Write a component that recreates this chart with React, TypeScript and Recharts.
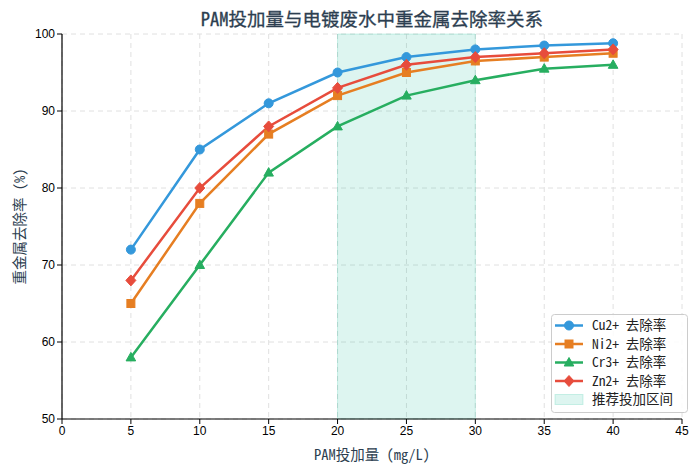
import React from 'react';
import {
  LineChart,
  Line,
  XAxis,
  YAxis,
  CartesianGrid,
  ReferenceArea,
  Legend,
} from 'recharts';

const doses = [5, 10, 15, 20, 25, 30, 35, 40];
const cuRemoval = [72, 85, 91, 95, 97, 98, 98.5, 98.8];
const niRemoval = [65, 78, 87, 92, 95, 96.5, 97, 97.5];
const crRemoval = [58, 70, 82, 88, 92, 94, 95.5, 96];
const znRemoval = [68, 80, 88, 93, 96, 97, 97.5, 98];
const xTicks = [0, 5, 10, 15, 20, 25, 30, 35, 40, 45];
const yTicks = [50, 60, 70, 80, 90, 100];
const recommendRange = [20, 30];

const data = doses.map((d, i) => ({
  x: d,
  cu: cuRemoval[i],
  ni: niRemoval[i],
  cr: crRemoval[i],
  zn: znRemoval[i],
}));

const CJK = "'Noto Sans Mono CJK SC', 'Noto Sans CJK SC', monospace";
const TICKFONT = "'Liberation Sans', Arial, sans-serif";
const TEXT_COLOR = '#2c3e50';

const C_CU = '#3498db';
const C_NI = '#e67e22';
const C_CR = '#27ae60';
const C_ZN = '#e74c3c';
const C_AREA = '#1abc9c';

type Shape = 'circle' | 'square' | 'triangle' | 'diamond';

function marker(shape: Shape, cx: number, cy: number, color: string, key?: any) {
  if (shape === 'circle') return <circle key={key} cx={cx} cy={cy} r={4.5} fill={color} stroke={color} />;
  if (shape === 'square') return <rect key={key} x={cx - 4} y={cy - 4} width={8} height={8} fill={color} stroke={color} />;
  if (shape === 'triangle')
    return <path key={key} d={`M${cx},${cy - 5} L${cx + 4.8},${cy + 3.5} L${cx - 4.8},${cy + 3.5} Z`} fill={color} stroke={color} />;
  return <path key={key} d={`M${cx},${cy - 5.5} L${cx + 5},${cy} L${cx},${cy + 5.5} L${cx - 5},${cy} Z`} fill={color} stroke={color} />;
}

const makeDot = (shape: Shape, color: string) => (props: any) => {
  const { cx, cy, index } = props;
  if (cx == null || cy == null) return <g key={index} />;
  return marker(shape, cx, cy, color, index);
};

const series = [
  { key: 'cu', name: 'Cu2+ 去除率', color: C_CU, shape: 'circle' as Shape },
  { key: 'ni', name: 'Ni2+ 去除率', color: C_NI, shape: 'square' as Shape },
  { key: 'cr', name: 'Cr3+ 去除率', color: C_CR, shape: 'triangle' as Shape },
  { key: 'zn', name: 'Zn2+ 去除率', color: C_ZN, shape: 'diamond' as Shape },
];

const LegendBox = () => {
  const rowH = 18.5;
  return (
    <svg width={137} height={99} style={{ display: 'block' }}>
      <rect x={0.5} y={0.5} width={136} height={98} rx={3} fill="#fff" fillOpacity={0.85} stroke="#cccccc" />
      {series.map((s, i) => {
        const y = 11.5 + i * rowH;
        return (
          <g key={s.key}>
            <line x1={4} x2={32} y1={y} y2={y} stroke={s.color} strokeWidth={2.5} />
            {marker(s.shape, 18, y, s.color)}
            <text x={41} y={y} dy="0.35em" fontSize={13.5} fontFamily={CJK} fill="#222">
              {s.name}
            </text>
          </g>
        );
      })}
      <rect x={4} y={11.5 + 4 * rowH - 5} width={28} height={10} fill={C_AREA} fillOpacity={0.15} stroke={C_AREA} strokeOpacity={0.2} />
      <text x={41} y={11.5 + 4 * rowH} dy="0.35em" fontSize={13.5} fontFamily={CJK} fill="#222">
        推荐投加区间
      </text>
    </svg>
  );
};

export default function App() {
  return (
    <div style={{ position: 'absolute', left: 0, top: 0, width: 698, height: 473, background: '#fff' }}>
      <div
        style={{
          position: 'absolute',
          left: 62,
          top: 5,
          width: 620,
          textAlign: 'center',
          fontFamily: CJK,
          fontSize: 18.5,
          fontWeight: 'normal',
          color: TEXT_COLOR,
          lineHeight: '26px',
          WebkitTextStroke: '0.3px #2c3e50',
        }}
      >
        PAM投加量与电镀废水中重金属去除率关系
      </div>
      <LineChart
        width={698}
        height={473}
        data={data}
        margin={{ top: 34, right: 16, bottom: 0, left: 0 }}
        style={{ position: 'absolute', left: 0, top: 0 }}
      >
        <CartesianGrid stroke="#e0e0e0" strokeDasharray="5 4" />
        <ReferenceArea
          x1={recommendRange[0]}
          x2={recommendRange[1]}
          y1={50}
          y2={100}
          fill={C_AREA}
          fillOpacity={0.15}
          stroke={C_AREA}
          strokeOpacity={0.2}
        />
        <XAxis
          dataKey="x"
          type="number"
          domain={[0, 45]}
          ticks={xTicks}
          height={54}
          allowDataOverflow
          stroke="#000"
          tickSize={5}
          tick={{ fill: '#000', fontSize: 12, fontFamily: TICKFONT }}
          tickLine={{ stroke: '#000' }}
          axisLine={{ stroke: '#000', strokeWidth: 1.2 }}
          label={(props: any) => {
            const vb = props.viewBox;
            return (
              <text
                x={vb.x + vb.width / 2}
                y={vb.y + 41}
                textAnchor="middle"
                fontSize={14.5}
                fontFamily={CJK}
                fill={TEXT_COLOR}
              >
                PAM投加量 (mg/L)
              </text>
            );
          }}
        />
        <XAxis xAxisId="top" orientation="top" type="number" domain={[0, 45]} height={0} tick={false} tickLine={false} axisLine={{ stroke: '#000', strokeWidth: 1.2 }} />
        <YAxis
          type="number"
          domain={[50, 100]}
          ticks={yTicks}
          width={62}
          allowDataOverflow
          stroke="#000"
          tickSize={5}
          tick={{ fill: '#000', fontSize: 12, fontFamily: TICKFONT }}
          tickLine={{ stroke: '#000' }}
          axisLine={{ stroke: '#000', strokeWidth: 1.2 }}
          label={(props: any) => {
            const vb = props.viewBox;
            const cx = 18;
            const cy = vb.y + vb.height / 2;
            return (
              <text
                x={cx}
                y={cy}
                textAnchor="middle"
                dominantBaseline="central"
                transform={`rotate(-90 ${cx} ${cy})`}
                fontSize={14.5}
                fontFamily={CJK}
                fill={TEXT_COLOR}
              >
                重金属去除率 (%)
              </text>
            );
          }}
        />
        <YAxis yAxisId="right" orientation="right" type="number" domain={[50, 100]} width={0} tick={false} tickLine={false} axisLine={{ stroke: '#000', strokeWidth: 1.2 }} />
        {series.map((s) => (
          <Line
            key={s.key}
            type="linear"
            dataKey={s.key}
            name={s.name}
            stroke={s.color}
            strokeWidth={2.5}
            dot={makeDot(s.shape, s.color)}
            activeDot={false}
            isAnimationActive={false}
          />
        ))}
        <Legend
          layout="horizontal"
          verticalAlign="middle"
          align="center"
          wrapperStyle={{ left: 551, top: 314, width: 137, height: 99 }}
          content={() => <LegendBox />}
        />
      </LineChart>
    </div>
  );
}
